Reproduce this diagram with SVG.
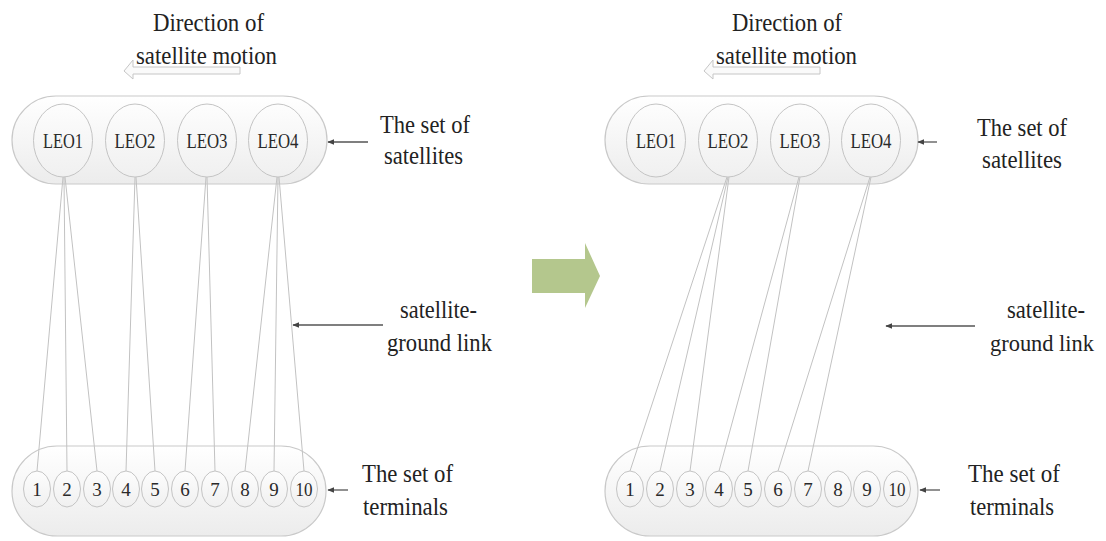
<svg xmlns="http://www.w3.org/2000/svg" width="1106" height="541" viewBox="0 0 1106 541">
<defs>
<linearGradient id="cg" x1="0" y1="0" x2="0" y2="1">
<stop offset="0" stop-color="#ffffff"/><stop offset="1" stop-color="#ececec"/>
</linearGradient>
<linearGradient id="eg" x1="0" y1="0" x2="0" y2="1">
<stop offset="0" stop-color="#fdfdfd"/><stop offset="1" stop-color="#f0f0f0"/>
</linearGradient>
<marker id="ah" viewBox="0 0 10 10" refX="9" refY="5" markerWidth="7" markerHeight="7" orient="auto" markerUnits="userSpaceOnUse">
<path d="M0,1 L10,5 L0,9 Z" fill="#444"/>
</marker>
<style>
.cont{fill:url(#cg);stroke:#c9c9c9;stroke-width:1.2}
.sat{fill:url(#eg);stroke:#c4c4c4;stroke-width:1}
.term{fill:url(#eg);stroke:#c4c4c4;stroke-width:1}
.lnk{stroke:#c2c2c2;stroke-width:1;fill:none}
.lbl{font-family:"Liberation Serif","Times New Roman",serif;fill:#222;font-size:26px}
.sl{font-family:"Liberation Serif","Times New Roman",serif;fill:#2a2a2a;font-size:22px;text-anchor:middle}
.tl{font-family:"Liberation Serif","Times New Roman",serif;fill:#2a2a2a;font-size:19px;text-anchor:middle}
.ptr{stroke:#555;stroke-width:1.3;fill:none;marker-end:url(#ah)}
.dir{fill:#fafafa;stroke:#c6c6c6;stroke-width:1}
</style>
</defs>

<!-- LEFT PANEL -->
<g id="left-motion">
<polygon class="dir" points="240,67 133,67 133,60 124,71 133,79 133,74 240,74"/>
<text class="lbl" x="153" y="31" textLength="111" lengthAdjust="spacingAndGlyphs">Direction of</text>
<text class="lbl" x="136" y="64" textLength="141" lengthAdjust="spacingAndGlyphs">satellite motion</text>
</g>
<g id="left-sat-set"><rect class="cont" x="12" y="96" width="315" height="88" rx="44"/></g>
<g id="left-term-set"><rect class="cont" x="12" y="446" width="314" height="90" rx="45"/></g>

<g id="left-links">
<line class="lnk" x1="63" y1="177" x2="37" y2="471"/>
<line class="lnk" x1="64" y1="177" x2="67" y2="471"/>
<line class="lnk" x1="65" y1="177" x2="97" y2="471"/>
<line class="lnk" x1="135" y1="177" x2="126" y2="471"/>
<line class="lnk" x1="136" y1="177" x2="155" y2="471"/>
<line class="lnk" x1="206" y1="177" x2="185" y2="471"/>
<line class="lnk" x1="207" y1="177" x2="215" y2="471"/>
<line class="lnk" x1="277" y1="177" x2="245" y2="471"/>
<line class="lnk" x1="278" y1="177" x2="274" y2="471"/>
<line class="lnk" x1="279" y1="177" x2="304" y2="471"/>
</g>

<g id="left-LEO1"><ellipse class="sat" cx="63" cy="140.5" rx="29.5" ry="36.5"/><text class="sl" x="63" y="148" textLength="40" lengthAdjust="spacingAndGlyphs">LEO1</text></g>
<g id="left-LEO2"><ellipse class="sat" cx="135" cy="140.5" rx="29.5" ry="36.5"/><text class="sl" x="135" y="148" textLength="41" lengthAdjust="spacingAndGlyphs">LEO2</text></g>
<g id="left-LEO3"><ellipse class="sat" cx="207" cy="140.5" rx="29.5" ry="36.5"/><text class="sl" x="207" y="148" textLength="41" lengthAdjust="spacingAndGlyphs">LEO3</text></g>
<g id="left-LEO4"><ellipse class="sat" cx="278" cy="140.5" rx="29.5" ry="36.5"/><text class="sl" x="278" y="148" textLength="41" lengthAdjust="spacingAndGlyphs">LEO4</text></g>

<g id="left-T1"><ellipse class="term" cx="37" cy="489" rx="13.5" ry="18"/><text class="tl" x="37" y="496">1</text></g>
<g id="left-T2"><ellipse class="term" cx="67" cy="489" rx="13.5" ry="18"/><text class="tl" x="67" y="496">2</text></g>
<g id="left-T3"><ellipse class="term" cx="97" cy="489" rx="13.5" ry="18"/><text class="tl" x="97" y="496">3</text></g>
<g id="left-T4"><ellipse class="term" cx="126" cy="489" rx="13.5" ry="18"/><text class="tl" x="126" y="496">4</text></g>
<g id="left-T5"><ellipse class="term" cx="155" cy="489" rx="13.5" ry="18"/><text class="tl" x="155" y="496">5</text></g>
<g id="left-T6"><ellipse class="term" cx="185" cy="489" rx="13.5" ry="18"/><text class="tl" x="185" y="496">6</text></g>
<g id="left-T7"><ellipse class="term" cx="215" cy="489" rx="13.5" ry="18"/><text class="tl" x="215" y="496">7</text></g>
<g id="left-T8"><ellipse class="term" cx="245" cy="489" rx="13.5" ry="18"/><text class="tl" x="245" y="496">8</text></g>
<g id="left-T9"><ellipse class="term" cx="274" cy="489" rx="13.5" ry="18"/><text class="tl" x="274" y="496">9</text></g>
<g id="left-T10"><ellipse class="term" cx="304" cy="489" rx="13.5" ry="18"/><text class="tl" x="304" y="496" textLength="17" lengthAdjust="spacingAndGlyphs">10</text></g>

<g id="left-labels">
<line class="ptr" x1="368" y1="142" x2="328" y2="142"/>
<text class="lbl" x="380" y="133" textLength="90" lengthAdjust="spacingAndGlyphs">The set of</text>
<text class="lbl" x="384" y="164" textLength="79" lengthAdjust="spacingAndGlyphs">satellites</text>
<line class="ptr" x1="383" y1="325" x2="293" y2="325"/>
<text class="lbl" x="400" y="318" textLength="77" lengthAdjust="spacingAndGlyphs">satellite-</text>
<text class="lbl" x="387" y="351" textLength="105" lengthAdjust="spacingAndGlyphs">ground link</text>
<line class="ptr" x1="348" y1="490" x2="328" y2="490"/>
<text class="lbl" x="362" y="482" textLength="91" lengthAdjust="spacingAndGlyphs">The set of</text>
<text class="lbl" x="363" y="515" textLength="85" lengthAdjust="spacingAndGlyphs">terminals</text>
</g>

<!-- CENTER ARROW -->
<g id="transition-arrow">
<polygon points="532,259 585,259 585,243 600,276 585,308 585,293 532,293" fill="#b4c78d"/>
</g>

<!-- RIGHT PANEL -->
<g id="right-motion">
<polygon class="dir" points="820,67 713,67 713,60 704,71 713,79 713,74 820,74"/>
<text class="lbl" x="732" y="31" textLength="110" lengthAdjust="spacingAndGlyphs">Direction of</text>
<text class="lbl" x="716" y="64" textLength="141" lengthAdjust="spacingAndGlyphs">satellite motion</text>
</g>
<g id="right-sat-set"><rect class="cont" x="605" y="96" width="313" height="88" rx="44"/></g>
<g id="right-term-set"><rect class="cont" x="605" y="446" width="313" height="90" rx="45"/></g>

<g id="right-links">
<line class="lnk" x1="727" y1="177" x2="630" y2="471"/>
<line class="lnk" x1="728" y1="177" x2="660" y2="471"/>
<line class="lnk" x1="729" y1="177" x2="690" y2="471"/>
<line class="lnk" x1="799" y1="177" x2="719" y2="471"/>
<line class="lnk" x1="800" y1="177" x2="748" y2="471"/>
<line class="lnk" x1="870" y1="177" x2="778" y2="471"/>
<line class="lnk" x1="871" y1="177" x2="808" y2="471"/>
</g>

<g id="right-LEO1"><ellipse class="sat" cx="656" cy="140.5" rx="29.5" ry="36.5"/><text class="sl" x="656" y="148" textLength="40" lengthAdjust="spacingAndGlyphs">LEO1</text></g>
<g id="right-LEO2"><ellipse class="sat" cx="728" cy="140.5" rx="29.5" ry="36.5"/><text class="sl" x="728" y="148" textLength="41" lengthAdjust="spacingAndGlyphs">LEO2</text></g>
<g id="right-LEO3"><ellipse class="sat" cx="800" cy="140.5" rx="29.5" ry="36.5"/><text class="sl" x="800" y="148" textLength="41" lengthAdjust="spacingAndGlyphs">LEO3</text></g>
<g id="right-LEO4"><ellipse class="sat" cx="871" cy="140.5" rx="29.5" ry="36.5"/><text class="sl" x="871" y="148" textLength="41" lengthAdjust="spacingAndGlyphs">LEO4</text></g>

<g id="right-T1"><ellipse class="term" cx="630" cy="489" rx="13.5" ry="18"/><text class="tl" x="630" y="496">1</text></g>
<g id="right-T2"><ellipse class="term" cx="660" cy="489" rx="13.5" ry="18"/><text class="tl" x="660" y="496">2</text></g>
<g id="right-T3"><ellipse class="term" cx="690" cy="489" rx="13.5" ry="18"/><text class="tl" x="690" y="496">3</text></g>
<g id="right-T4"><ellipse class="term" cx="719" cy="489" rx="13.5" ry="18"/><text class="tl" x="719" y="496">4</text></g>
<g id="right-T5"><ellipse class="term" cx="748" cy="489" rx="13.5" ry="18"/><text class="tl" x="748" y="496">5</text></g>
<g id="right-T6"><ellipse class="term" cx="778" cy="489" rx="13.5" ry="18"/><text class="tl" x="778" y="496">6</text></g>
<g id="right-T7"><ellipse class="term" cx="808" cy="489" rx="13.5" ry="18"/><text class="tl" x="808" y="496">7</text></g>
<g id="right-T8"><ellipse class="term" cx="838" cy="489" rx="13.5" ry="18"/><text class="tl" x="838" y="496">8</text></g>
<g id="right-T9"><ellipse class="term" cx="867" cy="489" rx="13.5" ry="18"/><text class="tl" x="867" y="496">9</text></g>
<g id="right-T10"><ellipse class="term" cx="897" cy="489" rx="13.5" ry="18"/><text class="tl" x="897" y="496" textLength="17" lengthAdjust="spacingAndGlyphs">10</text></g>

<g id="right-labels">
<line class="ptr" x1="937" y1="142" x2="918" y2="142"/>
<text class="lbl" x="977" y="136" textLength="90" lengthAdjust="spacingAndGlyphs">The set of</text>
<text class="lbl" x="982" y="168" textLength="80" lengthAdjust="spacingAndGlyphs">satellites</text>
<line class="ptr" x1="975" y1="326" x2="886" y2="326"/>
<text class="lbl" x="1007" y="318" textLength="78" lengthAdjust="spacingAndGlyphs">satellite-</text>
<text class="lbl" x="990" y="351" textLength="104" lengthAdjust="spacingAndGlyphs" style="font-size:24px">ground link</text>
<line class="ptr" x1="940" y1="490" x2="920" y2="490"/>
<text class="lbl" x="968" y="482" textLength="92" lengthAdjust="spacingAndGlyphs">The set of</text>
<text class="lbl" x="970" y="515" textLength="84" lengthAdjust="spacingAndGlyphs">terminals</text>
</g>
</svg>
